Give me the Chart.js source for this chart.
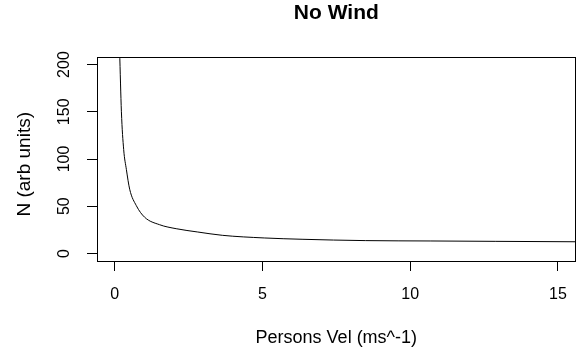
<!DOCTYPE html>
<html>
<head>
<meta charset="utf-8">
<script src="https://cdn.jsdelivr.net/npm/chart.js@4/dist/chart.umd.min.js"></script>
<style>
  html, body { margin: 0; padding: 0; background: #fff; }
  #wrap { width: 581px; height: 353px; }
</style>
</head>
<body>
<div id="wrap"><canvas id="c" width="581" height="353"></canvas></div>
<script>
// values
const velocity = [0.165, 0.226, 0.303, 0.394, 0.506, 0.731, 1.01, 1.52, 2.08, 2.81, 3.64, 5.06, 6.34, 8.48, 10.7, 12.9, 16];
const counts   = [215,   150,   110,   89,    68,    50.6,  38.4, 30.4, 26.2, 22.7, 19.2, 16.4, 15.0, 13.6, 13.2, 12.8, 12.3];
const xTicks = [0, 5, 10, 15];
const yTicks = [0, 50, 100, 150, 200];

const FONT = "Arial, 'Liberation Sans', sans-serif";

// R-style box round the plot region
const boxPlugin = {
   id: 'box',
   afterDraw(chart) {
      const a = chart.chartArea;
      const ctx = chart.ctx;
      ctx.save();
      ctx.strokeStyle = '#000';
      ctx.lineWidth = 1;
      ctx.strokeRect(Math.round(a.left) + 0.5, Math.round(a.top) + 0.5,
                     Math.round(a.right - a.left) - 1, Math.round(a.bottom - a.top));
      ctx.restore();
   }
};

let points = velocity.map((v, i) => ({ x: v, y: counts[i] }));

new Chart(document.getElementById('c'), {
   type: 'line',
   data: {
      datasets: [{
         data: points,
         borderColor: '#000',
         borderWidth: 1,
         pointRadius: 0,
         fill: false,
         cubicInterpolationMode: 'monotone'
      }]
   },
   options: {
      responsive: false,
      animation: false,
      layout: { padding: { left: 0, right: 3, top: 0, bottom: 0 } },
      plugins: {
         legend: { display: false },
         tooltip: { enabled: false },
         title: {
            display: true,
            text: 'No Wind',
            fullSize: false,
            color: '#000',
            font: { family: FONT, size: 21, weight: 'bold' },
            padding: { top: 1, bottom: 30.8 }
         }
      },
      scales: {
         x: {
            type: 'linear',
            min: -0.6,
            max: 15.6,
            afterBuildTicks: s => { s.ticks = xTicks.map(v => ({ value: v })); },
            afterFit: s => { s.height = 92; },
            grid: { display: true, drawOnChartArea: false, drawTicks: true, tickLength: 10, color: '#000' },
            border: { display: true, color: '#000' },
            ticks: { color: '#000', padding: 14, font: { family: FONT, size: 16 } },
            title: {
               display: true,
               text: 'Persons Vel (ms^-1)',
               color: '#000',
               font: { family: FONT, size: 18 },
               padding: { top: 0, bottom: 4 }
            }
         },
         y: {
            type: 'linear',
            min: -8,
            max: 208,
            afterBuildTicks: s => { s.ticks = yTicks.map(v => ({ value: v })); },
            afterFit: s => { s.width = 97; },
            grid: { display: true, drawOnChartArea: false, drawTicks: true, tickLength: 10, color: '#000' },
            border: { display: true, color: '#000' },
            ticks: {
               color: '#000',
               minRotation: 90,
               maxRotation: 90,
               crossAlign: 'center',
               padding: 9,
               font: { family: FONT, size: 16 }
            },
            title: {
               display: true,
               text: 'N (arb units)  ',
               color: '#000',
               font: { family: FONT, size: 19 },
               padding: { top: 13, bottom: 0 }
            }
         }
      }
   },
   plugins: [boxPlugin]
});
</script>
</body>
</html>
